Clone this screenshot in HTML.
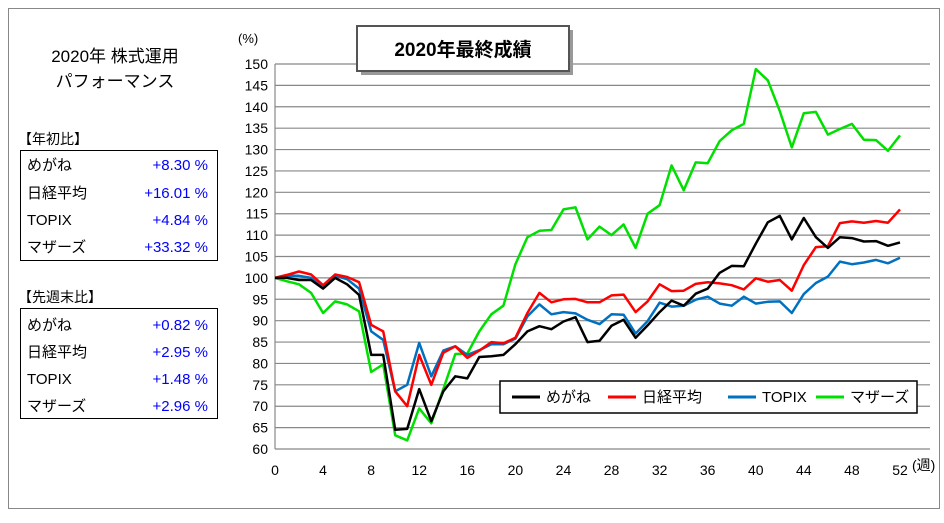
<!DOCTYPE html>
<html><head><meta charset="utf-8"><style>
body{margin:0;background:#fff;}
svg text{font-family:"Liberation Sans","Noto Sans CJK JP",sans-serif;}
</style></head><body>
<svg id="chart" width="944" height="518" xmlns="http://www.w3.org/2000/svg">
<rect x="0" y="0" width="944" height="518" fill="#fff"/>
<rect x="8.5" y="8.5" width="931" height="500" fill="none" stroke="#888"/>
<g id="grid"></g>
<g id="yticks"></g>
<g id="xticks"></g>
<text x="238" y="43" font-size="13">(%)</text>
<text x="912" y="470" font-size="14">(週)</text>
<g id="series"></g>
<g>
<rect x="361" y="30" width="212" height="45" fill="#999"/>
<rect x="357" y="26" width="212" height="45" fill="#fff" stroke="#555" stroke-width="2"/>
<text x="463" y="56" font-size="19" font-weight="bold" text-anchor="middle">2020年最終成績</text>
</g>
<g>
<rect x="500" y="381" width="417" height="32" fill="#fff" stroke="#000" stroke-width="1.5"/>
<line x1="512" y1="397" x2="540" y2="397" stroke="#000" stroke-width="3"/>
<text x="546" y="402" font-size="15">めがね</text>
<line x1="608" y1="397" x2="636" y2="397" stroke="#f00" stroke-width="3"/>
<text x="642" y="402" font-size="15">日経平均</text>
<line x1="728" y1="397" x2="756" y2="397" stroke="#0070c0" stroke-width="3"/>
<text x="762" y="402" font-size="15">TOPIX</text>
<line x1="816" y1="397" x2="844" y2="397" stroke="#00e000" stroke-width="3"/>
<text x="850" y="402" font-size="15">マザーズ</text>
</g>
<g font-size="15">
<text x="115" y="62" font-size="17" text-anchor="middle">2020年 株式運用</text>
<text x="115" y="87" font-size="17" text-anchor="middle">パフォーマンス</text>
<text x="18" y="144" font-size="14">【年初比】</text>
<rect x="20.5" y="150.5" width="197" height="110" fill="none" stroke="#000"/>
<text x="27" y="170">めがね</text><text x="208" y="170" text-anchor="end" fill="#00f">+8.30 %</text>
<text x="27" y="198">日経平均</text><text x="208" y="198" text-anchor="end" fill="#00f">+16.01 %</text>
<text x="27" y="225">TOPIX</text><text x="208" y="225" text-anchor="end" fill="#00f">+4.84 %</text>
<text x="27" y="252">マザーズ</text><text x="208" y="252" text-anchor="end" fill="#00f">+33.32 %</text>
<text x="18" y="302" font-size="14">【先週末比】</text>
<rect x="20.5" y="308.5" width="197" height="110" fill="none" stroke="#000"/>
<text x="27" y="330">めがね</text><text x="208" y="330" text-anchor="end" fill="#00f">+0.82 %</text>
<text x="27" y="357">日経平均</text><text x="208" y="357" text-anchor="end" fill="#00f">+2.95 %</text>
<text x="27" y="384">TOPIX</text><text x="208" y="384" text-anchor="end" fill="#00f">+1.48 %</text>
<text x="27" y="411">マザーズ</text><text x="208" y="411" text-anchor="end" fill="#00f">+2.96 %</text>
</g>
</svg>
<script>
const yTicks=[60,65,70,75,80,85,90,95,100,105,110,115,120,125,130,135,140,145,150];
const xTicks=[0,4,8,12,16,20,24,28,32,36,40,44,48,52];
const megane=[100,100,99.5,99.5,97.5,100,98.5,96,82,82,64.5,64.7,74,66.5,73.5,77,76.5,81.5,81.7,82,84.5,87.5,88.7,88,89.8,90.8,85,85.3,88.8,90.2,86,88.9,92,94.7,93.5,96.3,97.5,101.2,102.8,102.7,108,113,114.5,109,114,109.5,107,109.5,109.3,108.5,108.6,107.5,108.3];
const nikkei=[100,100.7,101.5,100.8,98.3,100.8,100.2,99,89,87.5,73.5,70,82,75,82.5,84,81.3,83,85,84.7,86,91.8,96.5,94.3,95,95.1,94.3,94.3,95.9,96.1,92,94.5,98.5,96.9,97,98.6,99,98.7,98.3,97.3,99.9,99.1,99.5,97,103,107.2,107.4,112.8,113.2,112.9,113.3,112.9,116];
const topix=[100,100.5,100.5,100,97.8,100.5,99.7,97.5,87.5,85.5,73.5,75,84.8,77,83,84,82,83.1,84.5,84.5,85.8,91,93.8,91.5,92,91.7,90.2,89.2,91.5,91.4,87,89.9,94.2,93.3,93.5,94.9,95.6,94,93.5,95.6,94,94.4,94.5,91.8,96.2,98.8,100.3,103.8,103.2,103.6,104.2,103.4,104.7];
const mothers=[100,99.2,98.5,96.5,91.8,94.5,93.8,92.2,78,79.8,63.2,62,69.5,66,74,82.2,82.3,87.5,91.5,93.5,103.2,109.5,111,111.2,116,116.5,109,112,110,112.5,107,115,117,126.3,120.5,127,126.8,132,134.5,136,148.8,146.2,139,130.5,138.5,138.8,133.5,134.8,136,132.3,132.2,129.7,133.3];
const NS="http://www.w3.org/2000/svg";
const X0=275,X1=900,W0=0,W1=52,YB=449,YT=64,V0=60,V1=150;
function xs(w){return X0+(w-W0)/(W1-W0)*(X1-X0);}
function ys(v){return YB-(v-V0)/(V1-V0)*(YB-YT);}
function mk(tag,attrs,parent){const e=document.createElementNS(NS,tag);for(const k in attrs)e.setAttribute(k,attrs[k]);parent.appendChild(e);return e;}
const grid=document.getElementById('grid'),yt=document.getElementById('yticks'),xt=document.getElementById('xticks'),sg=document.getElementById('series');
yTicks.forEach(v=>{
 const l=mk('line',{x1:X0,x2:930,y1:ys(v),y2:ys(v),stroke:'#888','stroke-width':1.2},grid);
 
 
 const t=mk('text',{x:X0-7,y:ys(v)+5,'font-size':14,'text-anchor':'end'},yt);
 t.textContent=v;
 
 
});
mk('line',{x1:X0,x2:X0,y1:ys(150),y2:YB,stroke:'#888','stroke-width':1.2},grid);
xTicks.forEach(w=>{
 const t=mk('text',{x:xs(w),y:475,'font-size':14,'text-anchor':'middle'},xt);
 t.textContent=w;
 
 
});
[[mothers,'#00e000','line-mothers'],[topix,'#0070c0','line-topix'],[nikkei,'#f00','line-nikkei'],[megane,'#000','line-megane']].forEach(([d,c,n])=>{
 const p=mk('polyline',{points:d.map((v,i)=>xs(i).toFixed(1)+','+ys(v).toFixed(1)).join(' '),fill:'none',stroke:c,'stroke-width':2.5,'stroke-linejoin':'round'},sg);
 
 
});
</script>
</body></html>
